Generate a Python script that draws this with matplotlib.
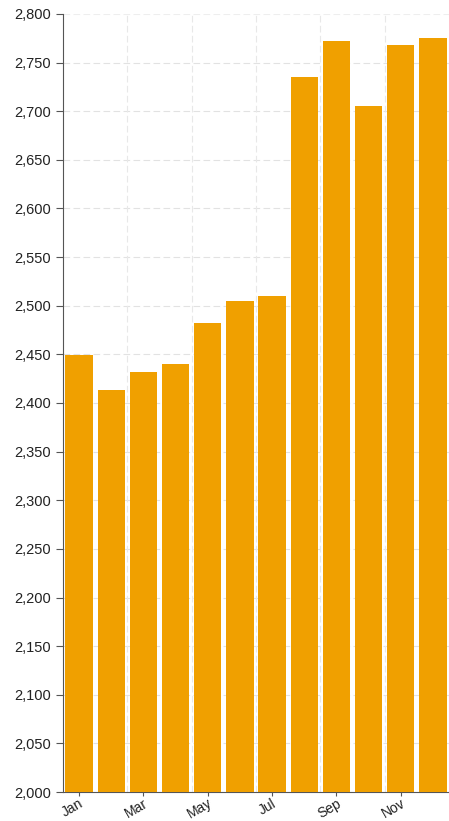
import matplotlib
matplotlib.use("Agg")
import matplotlib.pyplot as plt
from matplotlib.ticker import FuncFormatter, MultipleLocator

months = ["Jan", "Feb", "Mar", "Apr", "May", "Jun", "Jul", "Aug", "Sep", "Oct", "Nov", "Dec"]
values = [2449, 2413, 2432, 2440, 2482, 2505, 2510, 2735, 2772, 2705, 2768, 2775]
shown_labels = ["Jan", "Mar", "May", "Jul", "Sep", "Nov"]

plt.rcParams['font.family'] = ['Liberation Sans', 'DejaVu Sans']

fig = plt.figure(figsize=(4.49, 8.21), dpi=100)
ax = fig.add_axes([0.1403, 0.0353, 0.8597, 0.9477])

x = list(range(len(months)))
ax.bar(x, values, width=0.85, bottom=0, color="#F0A000", zorder=3)

ax.set_ylim(2000, 2800)
ax.set_xlim(-0.5, 11.5)
ax.yaxis.set_major_locator(MultipleLocator(50))
ax.yaxis.set_major_formatter(FuncFormatter(lambda v, p: f"{int(v):,}"))

tick_pos = [months.index(m) for m in shown_labels]
ax.set_xticks(tick_pos)
ax.set_xticklabels(shown_labels, rotation=30, ha="right", rotation_mode="anchor")

# grid
for yv in range(2050, 2800, 50):
    ax.axhline(yv, color="#e2e2e2", lw=0.8, ls=(0, (6, 3)), zorder=1)
ax.axhline(2800, color="#eeeeee", lw=0.8, ls=(0, (6, 3)), zorder=1)
for xv in [1.5, 3.5, 5.5, 7.5, 9.5]:
    ax.axvline(xv, color="#e8e8e8", lw=0.8, ls=(0, (6, 3)), zorder=1)

for s in ["top", "right"]:
    ax.spines[s].set_visible(False)
ax.spines["left"].set_color("#555555")
ax.spines["bottom"].set_color("#555555")
ax.tick_params(axis="y", length=5, color="#555555", labelsize=10.5, labelcolor="#222222")
ax.tick_params(axis="x", length=3, color="#555555", labelsize=10, labelcolor="#222222", pad=0)

fig.savefig("out.png", dpi=100)
